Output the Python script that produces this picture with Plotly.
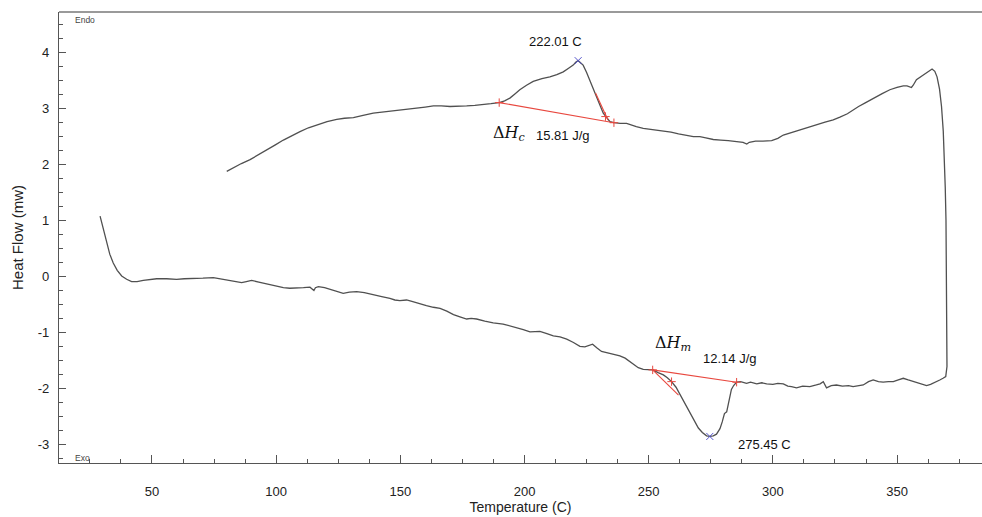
import plotly.graph_objects as go

# DSC curve, in recording order: heating trace (lower) -> turn at ~370 C -> cooling trace (upper)
temp_c = [29.1, 30.5, 31.8, 33, 34.4, 36, 37.8, 39.8, 41.8, 44, 46.5, 49, 51.9, 55.9, 59.9, 63, 66.6, 70.5, 74.7, 77.5,
          80.1, 83, 86.1, 88, 90.1, 93, 96.2, 99.5, 102.9, 105.5, 108.3, 111, 113.6, 114.6, 115.2, 115.8, 117, 119.5,
          121.7, 124.5, 127, 129.5, 132.4, 135.5, 139.1, 142.5, 145.8, 147.8, 149.8, 152.5, 155, 157.9, 160.5, 163.3,
          166, 168.7, 171.4, 174, 176.7, 178.5, 180.7, 184, 187.4, 191.4, 194, 196.8, 199.5, 202.2, 204, 206.2, 209,
          211.6, 214.3, 217, 219.7, 222.3, 224.3, 226, 227.4, 229.2, 231, 234.7, 238.4, 240.5, 242.4, 243.8, 245.8,
          247.8, 249.5, 251.6, 253.8, 255.9, 257.5, 259.2, 261, 262.6, 264.6, 266.6, 268.3, 270, 271.6, 273.3, 274.6,
          276, 277.3, 278.7, 279.6, 280.5, 281.4, 282.5, 283.3, 284.2, 285.4, 287, 289.4, 291, 293.5, 295.5, 297.5,
          300, 302, 304.2, 306, 307.5, 309.5, 312, 314.9, 317.5, 319, 320.3, 321.6, 323.5, 325.6, 328, 330.5, 332.3,
          334.5, 336.4, 338.5, 340.4, 342.5, 344.4, 346.5, 348.5, 350.5, 352.5, 354.5, 356.5, 359.2, 361.9, 363.5,
          364.6, 366, 367.2, 368.5, 369.6,
          370.1, 370.0, 369.9, 369.7, 369.4, 369.2, 368.6, 367.9, 367.1, 366.1, 365.2, 364.1, 362.8, 361.9, 360,
          357.8, 356.5, 355.8, 354, 352.5, 350, 347.1, 344, 340.4, 337, 334.5, 332.3, 330, 327, 324.3, 321, 318,
          314.9, 312, 309, 306.5, 304.2, 302, 299.5, 296, 293, 290.5, 289.5, 288, 285, 282, 279, 276, 273, 270.6,
          268, 265, 262, 259, 256, 253, 250, 247.8, 245, 243, 241.1, 238.5, 236, 234.4, 233, 231.7, 230.3, 229,
          227.6, 226.3, 225, 223.6, 222.6, 221.6, 220.6, 219.6, 217.6, 215.6, 213, 210.2, 207, 203.5, 200.8, 198.1,
          196, 194.1, 192, 189.8, 186.5, 183.4, 180, 176.7, 173, 170, 166.5, 163.3, 160, 156.5, 153, 149.8, 146,
          142.5, 139.1, 135, 131.1, 127.5, 124.4, 120.5, 116.3, 113, 109.6, 106.2, 102.9, 99.5, 96.2, 92.8, 89.5,
          86, 83, 80.1]
heat_flow_mw = [1.08, 0.82, 0.60, 0.40, 0.24, 0.11, 0.01, -0.05, -0.09, -0.09, -0.07, -0.05, -0.04, -0.04, -0.05,
                -0.04, -0.04, -0.03, -0.02, -0.04, -0.06, -0.09, -0.11, -0.09, -0.07, -0.10, -0.13, -0.17, -0.20,
                -0.21, -0.21, -0.20, -0.19, -0.22, -0.25, -0.20, -0.18, -0.20, -0.23, -0.27, -0.30, -0.28, -0.27,
                -0.29, -0.33, -0.36, -0.39, -0.42, -0.43, -0.42, -0.45, -0.48, -0.52, -0.55, -0.57, -0.62, -0.68,
                -0.72, -0.76, -0.75, -0.76, -0.80, -0.83, -0.85, -0.88, -0.92, -0.95, -0.99, -0.98, -0.98, -1.02,
                -1.06, -1.08, -1.12, -1.18, -1.25, -1.26, -1.23, -1.21, -1.28, -1.34, -1.38, -1.42, -1.46, -1.52,
                -1.58, -1.63, -1.66, -1.67, -1.67, -1.72, -1.76, -1.81, -1.88, -1.98, -2.11, -2.27, -2.44, -2.58,
                -2.71, -2.79, -2.85, -2.86, -2.85, -2.82, -2.72, -2.60, -2.45, -2.42, -2.18, -2.02, -1.95, -1.89,
                -1.88, -1.91, -1.89, -1.92, -1.90, -1.92, -1.93, -1.91, -1.92, -1.96, -1.97, -1.99, -1.96, -1.97,
                -1.94, -1.92, -1.88, -1.99, -1.95, -1.94, -1.96, -1.95, -1.97, -1.95, -1.94, -1.88, -1.85, -1.88,
                -1.89, -1.88, -1.88, -1.85, -1.82, -1.85, -1.88, -1.91, -1.95, -1.93, -1.91, -1.88, -1.85, -1.82,
                -1.79,
                -1.61, -0.50, 0.18, 1.00, 1.60, 1.97, 2.60, 3.04, 3.35, 3.57, 3.67, 3.71, 3.67, 3.64, 3.58, 3.52,
                3.42, 3.38, 3.41, 3.41, 3.38, 3.34, 3.27, 3.19, 3.10, 3.04, 2.98, 2.91, 2.85, 2.80, 2.76, 2.72, 2.68,
                2.64, 2.60, 2.57, 2.53, 2.47, 2.43, 2.42, 2.42, 2.40, 2.37, 2.40, 2.42, 2.43, 2.44, 2.45, 2.48, 2.50,
                2.50, 2.52, 2.55, 2.58, 2.60, 2.61, 2.63, 2.65, 2.68, 2.71, 2.74, 2.74, 2.75, 2.77, 2.84, 2.92, 3.07,
                3.22, 3.37, 3.52, 3.65, 3.78, 3.83, 3.86, 3.83, 3.78, 3.72, 3.66, 3.61, 3.57, 3.54, 3.49, 3.42, 3.34,
                3.26, 3.19, 3.14, 3.11, 3.09, 3.07, 3.06, 3.05, 3.04, 3.04, 3.05, 3.05, 3.03, 3.01, 2.99, 2.98, 2.96,
                2.94, 2.92, 2.88, 2.84, 2.83, 2.81, 2.77, 2.71, 2.66, 2.59, 2.52, 2.44, 2.35, 2.26, 2.17, 2.09, 2.02,
                1.95, 1.88]

# axis ticks (plain hyphen minus as in the reference)
y_tick_vals = [-3, -2, -1, 0, 1, 2, 3, 4]
y_tick_text = ["-3", "-2", "-1", "0", "1", "2", "3", "4"]
x_tick_vals = [50, 100, 150, 200, 250, 300, 350]
x_tick_text = ["50", "100", "150", "200", "250", "300", "350"]

# integration baselines and tangents (red)
base_c_x = [189.8, 236.0]
base_c_y = [3.11, 2.75]
tan_c_x = [228.6, 233.6]
tan_c_y = [3.28, 2.80]
base_m_x = [251.6, 285.4]
base_m_y = [-1.67, -1.89]
tan_m_x = [251.6, 262.0]
tan_m_y = [-1.67, -2.12]
tick_c_x = [232.6]
tick_c_y = [2.86]
tick_m_x = [259.2]
tick_m_y = [-1.88]

# peak markers
peak_x = [221.6, 274.6]
peak_y = [3.86, -2.86]

# labels
peak_labels = ["222.01 C", "275.45 C"]
peak_label_x = [212.3, 296.6]
peak_label_y = [4.20, -3.00]
enthalpy_values = ["15.81 J/g", "12.14 J/g"]
enthalpy_x = [215.5, 282.7]
enthalpy_y = [2.53, -1.46]
enthalpy_symbols = ["Δ<i>H</i><sub><i>c</i></sub>", "Δ<i>H</i><sub><i>m</i></sub>"]
enthalpy_sym_x = [194.0, 259.9]
enthalpy_sym_y = [2.55, -1.20]

red = "#e8483f"
fig = go.Figure()
fig.add_trace(go.Scatter(x=temp_c, y=heat_flow_mw, mode="lines",
                         line=dict(color="#505050", width=1.3), hoverinfo="skip", showlegend=False))
for xs, ys in [(base_c_x, base_c_y), (tan_c_x, tan_c_y), (base_m_x, base_m_y), (tan_m_x, tan_m_y)]:
    fig.add_trace(go.Scatter(x=xs, y=ys, mode="lines", line=dict(color=red, width=1.1), showlegend=False))
fig.add_trace(go.Scatter(x=base_c_x + base_m_x + tick_c_x + tick_m_x,
                         y=base_c_y + base_m_y + tick_c_y + tick_m_y, mode="markers",
                         marker=dict(symbol="cross-thin", size=6, line=dict(color=red, width=1)),
                         showlegend=False))
fig.add_trace(go.Scatter(x=peak_x, y=peak_y, mode="markers",
                         marker=dict(symbol="x-thin", size=7, line=dict(color="#5555cc", width=1)),
                         showlegend=False))

for t, x, y in zip(peak_labels, peak_label_x, peak_label_y):
    fig.add_annotation(x=x, y=y, text=t, showarrow=False, font=dict(size=13, color="#111"))
for t, x, y in zip(enthalpy_values, enthalpy_x, enthalpy_y):
    fig.add_annotation(x=x, y=y, text=t, showarrow=False, font=dict(size=13, color="#111"))
for t, x, y in zip(enthalpy_symbols, enthalpy_sym_x, enthalpy_sym_y):
    fig.add_annotation(x=x, y=y, text=t, showarrow=False,
                       font=dict(size=16, color="#111", family="DejaVu Serif"))

fig.add_annotation(xref="paper", yref="paper", x=0.015, y=0.982, text="Endo", showarrow=False,
                   xanchor="left", yanchor="middle", font=dict(size=8.5, color="#444"))
fig.add_annotation(xref="paper", yref="paper", x=0.015, y=0.01, text="Exo", showarrow=False,
                   xanchor="left", yanchor="middle", font=dict(size=8.5, color="#444"))

fig.add_shape(type="line", xref="paper", yref="paper", x0=0, x1=1, y0=1, y1=1,
              line=dict(color="#9a9a9a", width=2))

fig.update_layout(
    width=982, height=517,
    margin=dict(l=59, r=0, t=12, b=54),
    plot_bgcolor="white", paper_bgcolor="white",
    font=dict(family="Liberation Sans, Arial", size=13, color="#222"),
    showlegend=False,
)
fig.update_xaxes(range=[12.56, 384.2], showgrid=False, zeroline=False,
                 showline=True, linecolor="#555", linewidth=1.3,
                 ticks="inside", ticklen=8, tickcolor="#555",
                 tickmode="array", tickvals=x_tick_vals, ticktext=x_tick_text,
                 minor=dict(ticks="inside", ticklen=4, tickcolor="#555", dtick=12.5, tick0=0),
                 ticklabelstandoff=16,
                 title=dict(text="Temperature (C)", font=dict(size=14), standoff=3))
fig.update_yaxes(range=[-3.335, 4.73], showgrid=False, zeroline=False,
                 showline=True, linecolor="#555", linewidth=1.3,
                 ticks="inside", ticklen=7, tickcolor="#555",
                 tickmode="array", tickvals=y_tick_vals, ticktext=y_tick_text,
                 minor=dict(ticks="inside", ticklen=4, tickcolor="#555", dtick=0.25, tick0=0),
                 ticklabelstandoff=6,
                 title=dict(text="Heat Flow (mw)", font=dict(size=15), standoff=10))

fig.write_html("out.html", config={"displayModeBar": False},
               post_script="document.body.style.margin='0px';")
